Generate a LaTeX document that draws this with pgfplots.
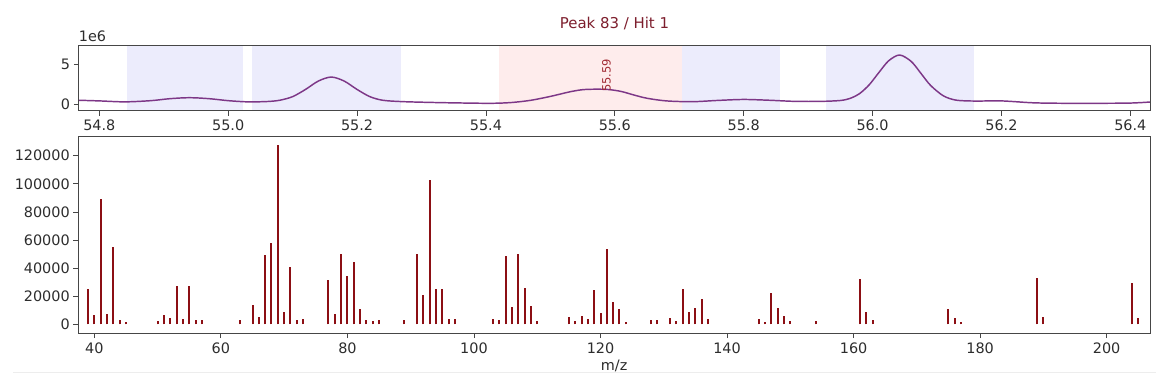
\documentclass[border=0pt]{standalone}
\usepackage{fontspec}
\setmainfont{DejaVu Sans}
\usepackage{pgfplots}
\pgfplotsset{compat=1.18}
\definecolor{blueshade}{RGB}{236,236,252}
\definecolor{redshade}{RGB}{254,236,236}
\definecolor{titlered}{RGB}{125,30,45}
\definecolor{annored}{RGB}{160,40,50}
\definecolor{curvecol}{RGB}{125,55,135}
\definecolor{barcol}{RGB}{140,15,20}
\definecolor{spine}{RGB}{70,70,70}
\definecolor{txt}{RGB}{45,45,45}
\newcommand{\tfont}{\fontsize{10.8}{13}\selectfont}
\pgfplotsset{
  common/.style={
    scale only axis, width=803.7pt, anchor=south west,
    axis line style={spine, line width=0.6pt},
    tick align=outside, major tick length=3.65pt,
    every tick/.style={spine, line width=0.6pt},
    xtick pos=bottom, ytick pos=left,
    tick label style={font=\tfont, text=txt},
    x tick label style={anchor=north, inner sep=0pt, yshift=-3.2pt},
    y tick label style={anchor=east, inner sep=0pt, xshift=-2.6pt},
    /pgf/number format/assume math mode=true,
    axis on top,
  }
}
\begin{document}
\begin{tikzpicture}
\path[use as bounding box] (0,0) rectangle (878.25pt,289.5pt);
\draw[line width=1.1pt, black!7] (9.75pt,10pt) -- (867pt,10pt);

\begin{axis}[common, at={(59pt,206.5pt)}, height=49.3pt,
  xmin=54.768, xmax=56.431, ymin=-0.8, ymax=7.41,
  xtick={54.8,55,55.2,55.4,55.6,55.8,56,56.2,56.4}, ytick={0,5},
  x tick label style={/pgf/number format/.cd, fixed, fixed zerofill, precision=1, /tikz/.cd},
  clip=false,
  title={Peak 83 / Hit 1},
  title style={at={(0.5,1)}, anchor=base, yshift=6.5pt, inner sep=0pt, text=titlered, font=\fontsize{11.2}{13}\selectfont},
]
\addplot[fill=blueshade, draw=none] coordinates {(54.843,-0.8) (54.843,7.41) (55.023,7.41) (55.023,-0.8)};
\addplot[fill=blueshade, draw=none] coordinates {(55.037,-0.8) (55.037,7.41) (55.268,7.41) (55.268,-0.8)};
\addplot[fill=redshade, draw=none] coordinates {(55.421,-0.8) (55.421,7.41) (55.704,7.41) (55.704,-0.8)};
\addplot[fill=blueshade, draw=none] coordinates {(55.705,-0.8) (55.705,7.41) (55.857,7.41) (55.857,-0.8)};
\addplot[fill=blueshade, draw=none] coordinates {(55.927,-0.8) (55.927,7.41) (56.157,7.41) (56.157,-0.8)};
\addplot[curvecol, line width=1.1pt, smooth, tension=0.5] coordinates {
(54.768,0.50) (54.80,0.42) (54.84,0.30) (54.88,0.45) (54.91,0.70) (54.94,0.82)
(54.97,0.70) (55.00,0.45) (55.03,0.30) (55.06,0.34) (55.08,0.50) (55.10,0.95)
(55.12,1.85) (55.14,2.90) (55.16,3.40) (55.18,2.90) (55.20,1.85) (55.22,0.95)
(55.24,0.50) (55.27,0.33) (55.32,0.22) (55.37,0.15) (55.41,0.12) (55.44,0.22)
(55.47,0.50) (55.50,0.98) (55.53,1.55) (55.55,1.82) (55.57,1.88) (55.59,1.84)
(55.61,1.60) (55.63,1.15) (55.65,0.75) (55.68,0.42) (55.72,0.32) (55.76,0.48)
(55.80,0.60) (55.84,0.50) (55.88,0.36) (55.92,0.36) (55.95,0.47) (55.965,0.73)
(55.98,1.34) (55.995,2.45) (56.01,3.98) (56.025,5.43) (56.042,6.15) (56.06,5.35)
(56.075,3.87) (56.09,2.36) (56.11,1.05) (56.13,0.51) (56.16,0.40) (56.20,0.42)
(56.25,0.18) (56.30,0.12) (56.35,0.12) (56.40,0.15) (56.431,0.28)};
\node[anchor=base west, inner sep=0pt, yshift=2.5pt, font=\tfont, text=txt] at (rel axis cs:0,1) {1e6};
\node[rotate=90, anchor=west, inner sep=0pt, font=\fontsize{8.6}{10}\selectfont, text=annored] at (axis cs:55.587,1.54) {55.59};
\end{axis}

\begin{axis}[common, at={(58.75pt,39.5pt)}, height=147.45pt,
  xmin=37.47, xmax=206.84, ymin=-6400, ymax=133500,
  xtick={40,60,80,100,120,140,160,180,200},
  ytick={0,20000,40000,60000,80000,100000,120000},
  scaled y ticks=false,
  y tick label style={/pgf/number format/.cd, fixed, 1000 sep={}, /tikz/.cd},
  xlabel={m/z},
  xlabel style={at={(0.5,0)}, anchor=center, yshift=-24.5pt, font=\tfont, text=txt, inner sep=0pt},
]
\addplot[ycomb, barcol, line width=1.5pt] coordinates {
(39,25000) (40,6400) (41,88900) (42,7400) (43,54800) (44,2800) (45,1700)
(50,2100) (51,6600) (52,4700) (53,27500) (54,4000) (55,27500) (56,2800) (57,2800)
(63,2800) (65,13800) (66,5200) (67,49600) (68,57900) (69,127600) (70,8500)
(71,40800) (72,3300) (73,4000) (77,31800) (78,7100) (79,50300) (80,34400)
(81,44100) (82,10900) (83,3300) (84,2100) (85,2800) (89,2800) (91,50000)
(92,21100) (93,102700) (94,24900) (95,24900) (96,3600) (97,4000) (103,3800)
(104,2800) (105,48900) (106,12300) (107,50300) (108,25600) (109,13000) (110,2600)
(115,5200) (116,2100) (117,5900) (118,3800) (119,24200) (120,8300) (121,53400)
(122,15900) (123,10900) (124,1400) (128,2800) (129,2800) (131,4500) (132,2400)
(133,24900) (134,9000) (135,11400) (136,18000) (137,4000) (145,4000) (146,1700)
(147,22500) (148,11900) (149,5900) (150,2400) (154,2100) (161,32500) (162,9000)
(163,2800) (175,10900) (176,4500) (177,1400) (189,33200) (190,5500) (204,29400)
(205,4500)};
\end{axis}
\end{tikzpicture}
\end{document}
